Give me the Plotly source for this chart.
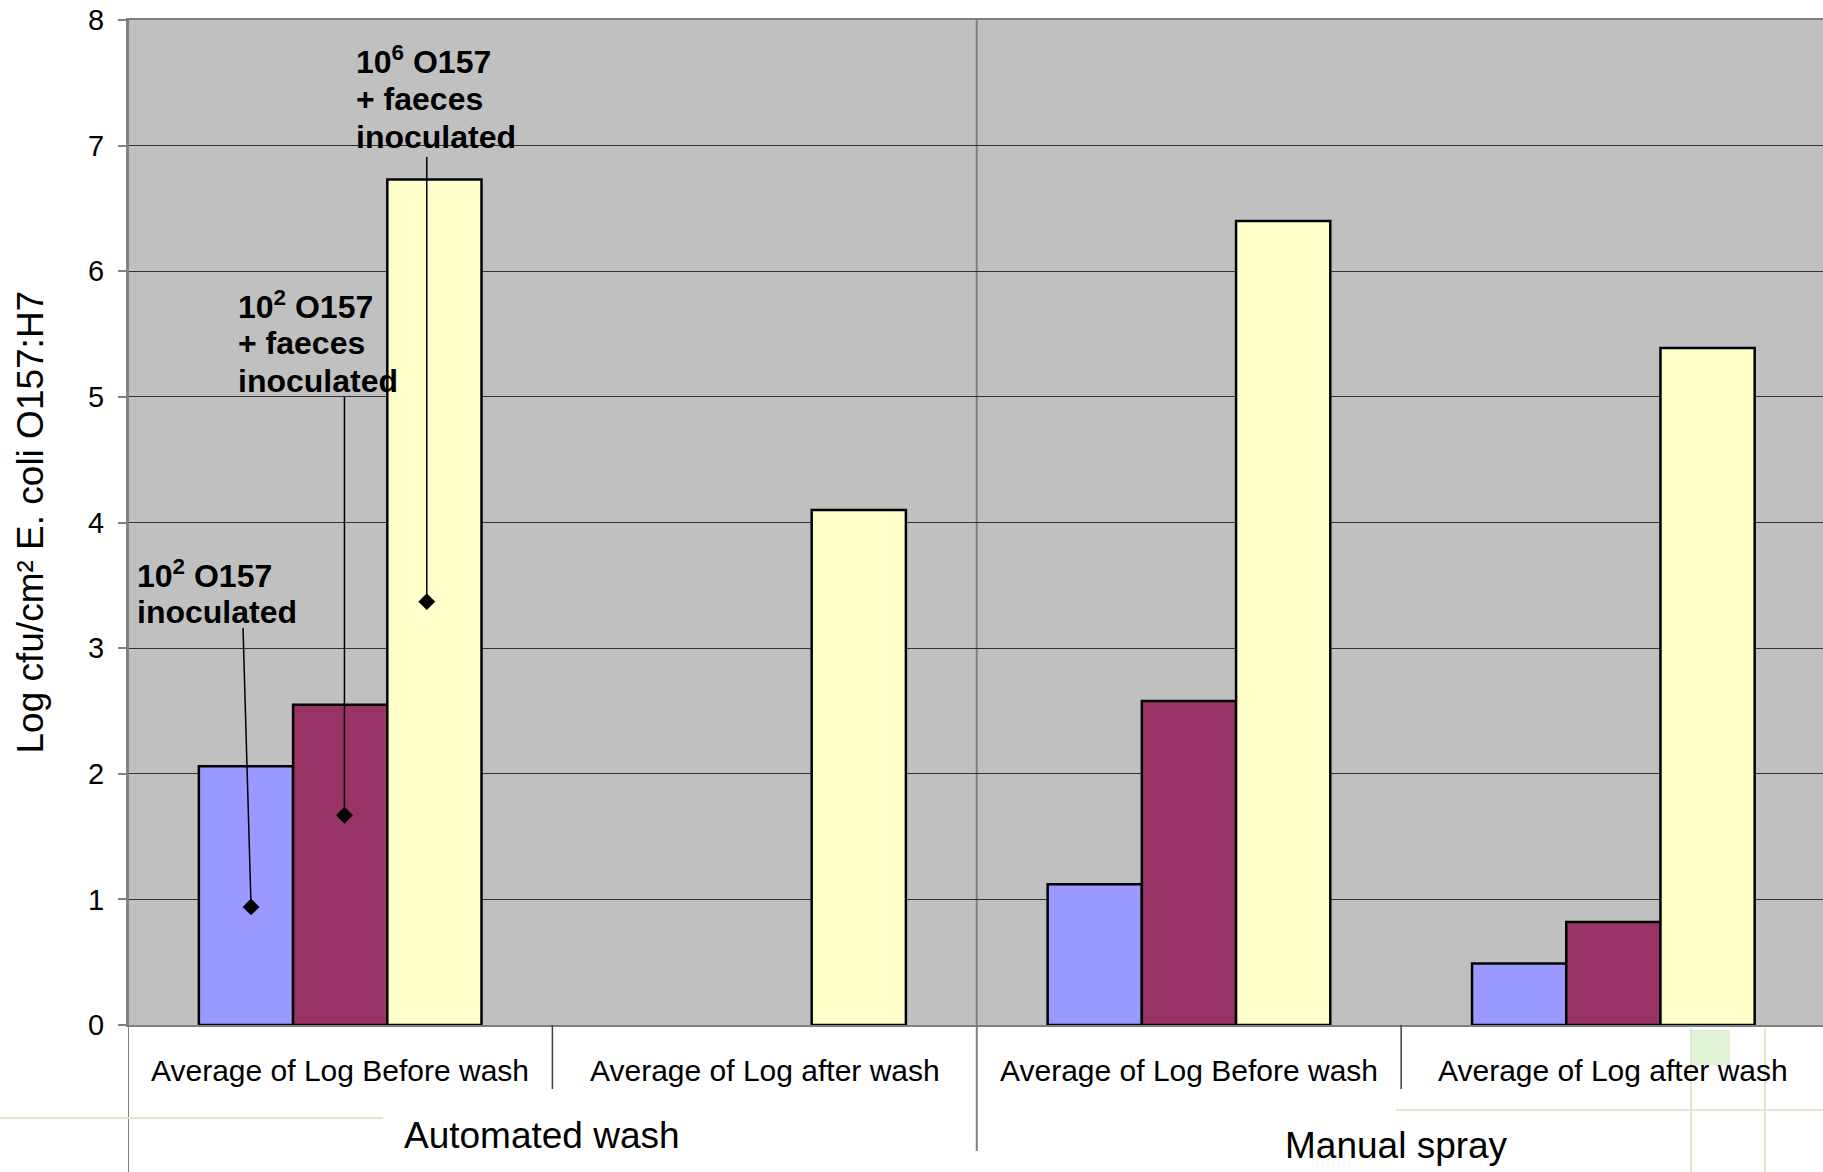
import plotly.graph_objects as go

# Category and group labels
categories = ["Average of Log Before wash", "Average of Log after wash",
              "Average of Log Before wash", "Average of Log after wash"]
groups = ["Automated wash", "Manual spray"]
group_centers = [0.475, 2.489]

# Mean log counts (log cfu/cm²) per series
series_names = ["10² O157 inoculated", "10² O157 + faeces inoculated",
                "10⁶ O157 + faeces inoculated"]
low_inoculum = [2.06, None, 1.12, 0.49]
low_faeces = [2.55, None, 2.58, 0.82]
high_faeces = [6.73, 4.10, 6.40, 5.39]
series_colors = ["#9999FF", "#993366", "#FFFFCC"]

# Callout labels (one entry per text line) with leader lines ending in diamond points
callout_lines = [["10<sup>2</sup> O157", "inoculated"],
                 ["10<sup>2</sup> O157", "+ faeces", "inoculated"],
                 ["10<sup>6</sup> O157", "+ faeces", "inoculated"]]
callout_label_x = [-0.484, -0.245, 0.032]
callout_first_line_y = [3.589, 5.735, 7.678]
callout_line_step = 0.303
leader_start_x = [-0.229, 0.010, 0.204]
leader_start_y = [3.16, 5.00, 6.91]
point_x = [-0.210, 0.010, 0.204]
point_y = [0.94, 1.67, 3.37]

y_ticks = list(range(0, 9))

FONT = "Liberation Sans, Arial, sans-serif"
W, H = 1823, 1172
ML, MT, MB, MR = 128, 20, 147, 0
plot_h = H - MT - MB

fig = go.Figure()

for name, vals, col in zip(series_names, [low_inoculum, low_faeces, high_faeces], series_colors):
    fig.add_trace(go.Bar(
        x=[0, 1, 2, 3], y=vals, name=name,
        marker=dict(color=col, line=dict(color="black", width=2.5)),
        showlegend=False,
    ))

fig.add_trace(go.Scatter(
    x=point_x, y=point_y, mode="markers",
    marker=dict(symbol="diamond", size=13, color="black"),
    showlegend=False, hoverinfo="skip",
))

shapes = []
# leader lines
for x0, y0, x1, y1 in zip(leader_start_x, leader_start_y, point_x, point_y):
    shapes.append(dict(type="line", xref="x", yref="y", x0=x0, y0=y0, x1=x1, y1=y1,
                       line=dict(color="black", width=1.5), layer="above"))

def py(px):
    """paper y for a pixel row measured from the top of the page"""
    return (H - MB - px) / plot_h

def px_paper(px):
    """paper x for a pixel column measured from the left of the page"""
    return (px - ML) / (W - ML)

# category dividers below the axis
for xd in [0.5, 2.5]:
    shapes.append(dict(type="line", xref="x", yref="paper", x0=xd, x1=xd,
                       y0=0, y1=py(1089), line=dict(color="#404040", width=1.5)))
# group divider through the plot and below
shapes.append(dict(type="line", xref="x", yref="paper", x0=1.5, x1=1.5,
                   y0=1, y1=py(1151), line=dict(color="#808080", width=2), layer="below"))
# left frame extended down the page
shapes.append(dict(type="line", xref="x", yref="paper", x0=-0.5, x1=-0.5,
                   y0=1, y1=py(H), line=dict(color="#808080", width=2)))

# faint green slide decoration lines
green = "#DDEBCB"
shapes += [
    dict(type="line", xref="paper", yref="paper", x0=px_paper(0), x1=px_paper(383),
         y0=py(1118), y1=py(1118), line=dict(color=green, width=2)),
    dict(type="line", xref="paper", yref="paper", x0=px_paper(1396), x1=1,
         y0=py(1110), y1=py(1110), line=dict(color=green, width=2)),
    dict(type="line", xref="paper", yref="paper", x0=px_paper(1691), x1=px_paper(1691),
         y0=py(1028), y1=py(H), line=dict(color=green, width=2)),
    dict(type="line", xref="paper", yref="paper", x0=px_paper(1765), x1=px_paper(1765),
         y0=py(1028), y1=py(H), line=dict(color=green, width=2)),
    dict(type="rect", xref="paper", yref="paper", x0=px_paper(1692), x1=px_paper(1730),
         y0=py(1065), y1=py(1030), line=dict(width=0), fillcolor="#E2F2D4"),
]

annotations = []
for lines, x, y0 in zip(callout_lines, callout_label_x, callout_first_line_y):
    for k, line in enumerate(lines):
        annotations.append(dict(text=line, x=x, y=y0 - k * callout_line_step,
                                xref="x", yref="y", xanchor="left", yanchor="middle",
                                showarrow=False, align="left",
                                font=dict(family=FONT, size=32, color="black", weight="bold")))

for i, c in enumerate(categories):
    annotations.append(dict(text=c, x=i, y=py(1070), xref="x", yref="paper",
                            xanchor="center", yanchor="middle", showarrow=False,
                            font=dict(family=FONT, size=30, color="black")))

for g, gx, gy in zip(groups, group_centers, [1135, 1145]):
    annotations.append(dict(text=g, x=gx, y=py(gy), xref="x", yref="paper",
                            xanchor="center", yanchor="middle", showarrow=False,
                            font=dict(family=FONT, size=37, color="black")))

annotations.append(dict(text="Log cfu/cm² E. coli O157:H7", textangle=-90,
                        x=px_paper(30), y=0.5, xref="paper", yref="paper",
                        xanchor="center", yanchor="middle", showarrow=False,
                        font=dict(family=FONT, size=37, color="black")))

fig.update_layout(
    width=W, height=H, autosize=False,
    margin=dict(l=ML, r=MR, t=MT, b=MB, pad=0),
    paper_bgcolor="white", plot_bgcolor="#C0C0C0",
    barmode="group", bargap=0.334, bargroupgap=0,
    shapes=shapes, annotations=annotations,
    font=dict(family=FONT, color="black"),
    xaxis=dict(range=[-0.5, 3.494], showticklabels=False, ticks="", showgrid=False,
               zeroline=False, showline=True, linecolor="#808080", linewidth=2, mirror=True,
               fixedrange=True),
    yaxis=dict(range=[0, 8], tickvals=y_ticks, ticks="outside", ticklen=8,
               tickcolor="#808080", tickwidth=1.5,
               showgrid=True, gridcolor="#333333", gridwidth=1.2,
               zeroline=False, showline=True, linecolor="#808080", linewidth=2,
               tickfont=dict(family=FONT, size=29, color="black"),
               ticklabelstandoff=8, fixedrange=True),
)

fig.write_html("out.html")
